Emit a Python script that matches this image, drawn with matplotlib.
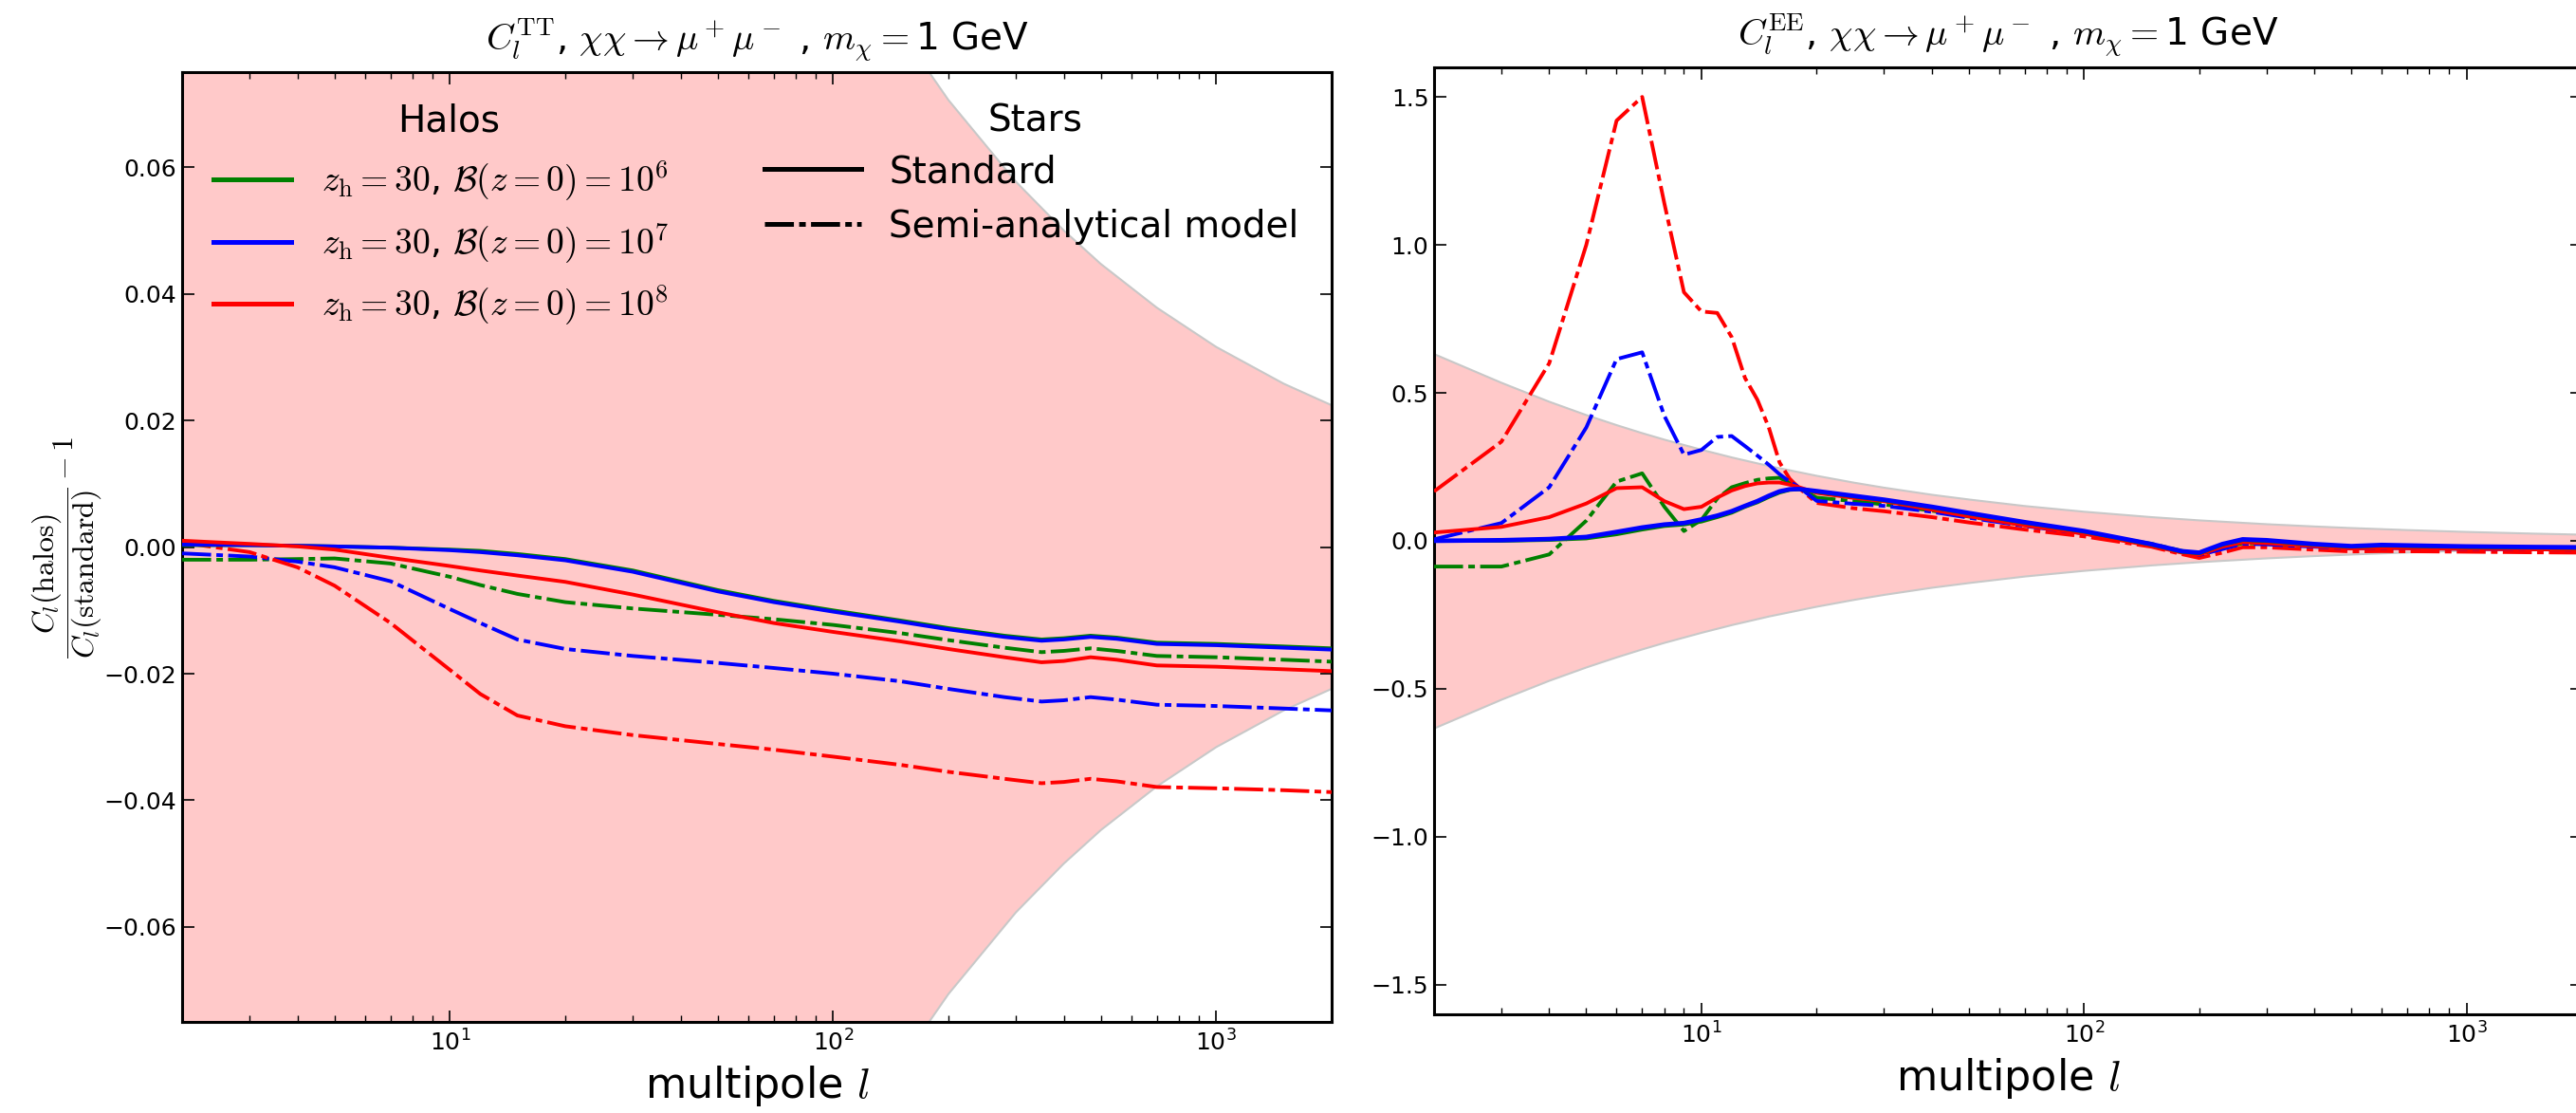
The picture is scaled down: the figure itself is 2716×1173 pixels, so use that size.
import matplotlib
matplotlib.use('Agg')
import matplotlib.pyplot as plt
from matplotlib.lines import Line2D
import numpy as np

plt.rcParams['mathtext.fontset'] = 'cm'
plt.rcParams['font.family'] = ['DejaVu Sans']
plt.rcParams['lines.scale_dashes'] = False

# ---------------- data ----------------
# cosmic-variance band
l_band = [2, 3, 4, 5, 6, 7, 8, 10, 12, 15, 20, 25, 30, 40, 50, 70, 100, 150, 200, 300, 400, 500, 700, 1000, 1500, 2000]
cv_band = [0.632, 0.535, 0.471, 0.426, 0.392, 0.365, 0.343, 0.309, 0.283, 0.254, 0.221, 0.198, 0.181, 0.157,
           0.141, 0.119, 0.0998, 0.0815, 0.0706, 0.0577, 0.0500, 0.0447, 0.0378, 0.0316, 0.0258, 0.0224]

# TT panel
l_tt = [2, 3, 4, 5, 7, 10, 12, 15, 20, 30, 50, 70, 100, 150, 200, 280, 350, 400, 470, 550, 700, 1000, 1500, 2000]
tt_b6_std = [0.0003, 0.0003, 0.0002, 0.0001, -0.0001, -0.0004, -0.0006, -0.0011, -0.0019, -0.0037, -0.0068, -0.0085,
             -0.0100, -0.0116, -0.0128, -0.0140, -0.0146, -0.0144, -0.0140, -0.0143, -0.0151, -0.0153, -0.0157, -0.0160]
tt_b7_std = [0.0004, 0.0003, 0.0002, 0.0001, -0.0001, -0.0005, -0.0008, -0.0013, -0.0021, -0.0039, -0.0070, -0.0087,
             -0.0102, -0.0118, -0.0130, -0.0142, -0.0148, -0.0146, -0.0142, -0.0145, -0.0153, -0.0155, -0.0159, -0.0162]
tt_b8_std = [0.0010, 0.0005, 0.0001, -0.0004, -0.0017, -0.0030, -0.0037, -0.0045, -0.0055, -0.0075, -0.0103, -0.0120,
             -0.0134, -0.0149, -0.0161, -0.0174, -0.0182, -0.0180, -0.0174, -0.0178, -0.0187, -0.0189, -0.0193, -0.0196]
tt_b6_sam = [-0.0020, -0.0020, -0.0019, -0.0018, -0.0026, -0.0047, -0.0060, -0.0074, -0.0087, -0.0097, -0.0107, -0.0114,
             -0.0123, -0.0136, -0.0147, -0.0159, -0.0166, -0.0164, -0.0160, -0.0164, -0.0172, -0.0174, -0.0178, -0.0181]
tt_b7_sam = [-0.0010, -0.0015, -0.0023, -0.0032, -0.0054, -0.0098, -0.0120, -0.0146, -0.0161, -0.0172, -0.0183, -0.0191,
             -0.0200, -0.0212, -0.0224, -0.0237, -0.0244, -0.0242, -0.0237, -0.0241, -0.0249, -0.0251, -0.0255, -0.0258]
tt_b8_sam = [0.0007, -0.0008, -0.0032, -0.0061, -0.0120, -0.0194, -0.0232, -0.0266, -0.0283, -0.0297, -0.0311, -0.0320,
             -0.0331, -0.0344, -0.0355, -0.0366, -0.0373, -0.0371, -0.0366, -0.0370, -0.0379, -0.0381, -0.0384, -0.0387]

# EE panel
l_ee = [2, 3, 4, 5, 6, 7, 8, 9, 10, 11, 12, 13, 14, 15, 16, 17, 18, 20, 25, 30, 40, 50, 70, 100, 150, 180, 200,
        230, 260, 300, 400, 500, 600, 800, 1000, 1500, 2000]
ee_b8_sam = [0.167, 0.335, 0.60, 1.00, 1.42, 1.50, 1.14, 0.84, 0.775, 0.77, 0.688, 0.55, 0.477, 0.383, 0.265, 0.21,
             0.178, 0.128, 0.11, 0.10, 0.08, 0.062, 0.038, 0.015, -0.02, -0.045, -0.058, -0.04, -0.022, -0.022,
             -0.03, -0.036, -0.035, -0.036, -0.037, -0.039, -0.040]
ee_b7_sam = [0.005, 0.06, 0.181, 0.383, 0.614, 0.637, 0.422, 0.291, 0.307, 0.351, 0.354, 0.32, 0.288, 0.257, 0.225,
             0.2, 0.181, 0.135, 0.125, 0.118, 0.098, 0.078, 0.05, 0.025, -0.012, -0.036, -0.048, -0.028, -0.01,
             -0.012, -0.02, -0.026, -0.024, -0.026, -0.027, -0.029, -0.030]
ee_b6_sam = [-0.087, -0.087, -0.046, 0.068, 0.20, 0.228, 0.115, 0.033, 0.071, 0.143, 0.181, 0.195, 0.206, 0.211,
             0.213, 0.196, 0.178, 0.146, 0.134, 0.123, 0.102, 0.082, 0.053, 0.027, -0.01, -0.034, -0.046, -0.026,
             -0.008, -0.01, -0.018, -0.024, -0.022, -0.024, -0.025, -0.027, -0.028]
ee_b7_std = [0.0, 0.002, 0.006, 0.013, 0.03, 0.045, 0.055, 0.06, 0.072, 0.085, 0.1, 0.118, 0.134, 0.152, 0.167,
             0.174, 0.175, 0.168, 0.152, 0.139, 0.115, 0.094, 0.063, 0.033, -0.011, -0.035, -0.04, -0.011, 0.005,
             0.002, -0.011, -0.018, -0.014, -0.017, -0.019, -0.021, -0.022]
ee_b6_std = [0.0, 0.0, 0.003, 0.008, 0.022, 0.038, 0.05, 0.055, 0.065, 0.08, 0.095, 0.115, 0.13, 0.148, 0.163,
             0.172, 0.174, 0.166, 0.150, 0.137, 0.113, 0.092, 0.061, 0.031, -0.013, -0.037, -0.042, -0.013, 0.003,
             0.0, -0.013, -0.02, -0.016, -0.019, -0.021, -0.023, -0.024]
ee_b8_std = [0.028, 0.047, 0.08, 0.126, 0.178, 0.181, 0.134, 0.107, 0.115, 0.146, 0.17, 0.185, 0.194, 0.197, 0.197,
             0.19, 0.181, 0.162, 0.145, 0.134, 0.105, 0.083, 0.052, 0.024, -0.017, -0.04, -0.047, -0.02, -0.005,
             -0.008, -0.018, -0.026, -0.024, -0.026, -0.027, -0.029, -0.030]

halo_labels = [r'$z_{\rm h}=30$, $\mathcal{B}(z=0)=10^6$',
               r'$z_{\rm h}=30$, $\mathcal{B}(z=0)=10^7$',
               r'$z_{\rm h}=30$, $\mathcal{B}(z=0)=10^8$']
star_labels = ['Standard', 'Semi-analytical model']
colors = ['#008000', '#0000ff', '#ff0000']

DASHDOT = (0, (22, 4, 5, 4))
LW = 2.8

fig = plt.figure(figsize=(27.16, 11.73), dpi=100)
ax1 = fig.add_axes([0.0707, 0.0818, 0.4462, 0.8534])
ax2 = fig.add_axes([0.5567, 0.0887, 0.4455, 0.8508])

for ax in (ax1, ax2):
    lb = np.array(l_band)
    cb = np.array(cv_band)
    ax.fill_between(lb, -cb, cb, facecolor='#ffc9c9', edgecolor='#c8c8c8', linewidth=1.5, zorder=1)

# TT
ax1.plot(l_tt, tt_b6_sam, color=colors[0], ls=DASHDOT, lw=LW, zorder=3)
ax1.plot(l_tt, tt_b7_sam, color=colors[1], ls=DASHDOT, lw=LW, zorder=3)
ax1.plot(l_tt, tt_b8_sam, color=colors[2], ls=DASHDOT, lw=LW, zorder=3)
ax1.plot(l_tt, tt_b6_std, color=colors[0], ls='-', lw=LW, zorder=4)
ax1.plot(l_tt, tt_b7_std, color=colors[1], ls='-', lw=LW, zorder=4)
ax1.plot(l_tt, tt_b8_std, color=colors[2], ls='-', lw=LW, zorder=4)

# EE
ax2.plot(l_ee, ee_b6_sam, color=colors[0], ls=DASHDOT, lw=LW, zorder=3)
ax2.plot(l_ee, ee_b8_sam, color=colors[2], ls=DASHDOT, lw=LW, zorder=3)
ax2.plot(l_ee, ee_b7_sam, color=colors[1], ls=DASHDOT, lw=LW, zorder=3)
ax2.plot(l_ee, ee_b8_std, color=colors[2], ls='-', lw=LW, zorder=4)
ax2.plot(l_ee, ee_b6_std, color=colors[0], ls='-', lw=LW, zorder=4)
ax2.plot(l_ee, ee_b7_std, color=colors[1], ls='-', lw=LW + 0.6, zorder=4)

ax1.set_ylim(-0.075, 0.075)
ax1.set_yticks([-0.06, -0.04, -0.02, 0.0, 0.02, 0.04, 0.06])
ax1.set_yticklabels(['\u22120.06', '\u22120.04', '\u22120.02', '0.00', '0.02', '0.04', '0.06'])
ax2.set_ylim(-1.6, 1.6)
ax2.set_yticks([-1.5, -1.0, -0.5, 0.0, 0.5, 1.0, 1.5])
ax2.set_yticklabels(['\u22121.5', '\u22121.0', '\u22120.5', '0.0', '0.5', '1.0', '1.5'])

for ax in (ax1, ax2):
    ax.set_xscale('log')
    ax.set_xlim(2, 2000)
    ax.tick_params(which='both', direction='in', top=True, right=True, labelsize=18)
    ax.tick_params(axis='y', which='both', pad=4)
    ax.tick_params(axis='x', which='both', pad=6)
    ax.tick_params(which='major', length=9, width=1.2)
    ax.tick_params(which='minor', length=5, width=1.0)
    for s in ax.spines.values():
        s.set_linewidth(2.2)
    ax.set_xlabel(r'multipole $l$', fontsize=32, labelpad=6)

ax1.set_title(r'$C_l^{\rm TT}$, $\chi\chi\to\mu^+\mu^-$ , $m_\chi=$1 GeV', fontsize=28, pad=16)
ax2.set_title(r'$C_l^{\rm EE}$, $\chi\chi\to\mu^+\mu^-$ , $m_\chi=$1 GeV', fontsize=28, pad=16)
ax1.set_ylabel(r'$\dfrac{C_l({\rm halos})}{C_l({\rm standard})}-1$', fontsize=23, labelpad=0)

# legends (titles drawn as separate texts)
h_halo = [Line2D([], [], color=c, lw=3.6) for c in colors]
leg1 = ax1.legend(h_halo, halo_labels, loc='upper left', bbox_to_anchor=(0.027, 0.908), frameon=False,
                  fontsize=27, handlelength=2.2, borderpad=0, borderaxespad=0, labelspacing=0.5,
                  handletextpad=0.85)
ax1.add_artist(leg1)
h_star = [Line2D([], [], color='k', lw=3.6, ls='-'), Line2D([], [], color='k', lw=3.6, ls=DASHDOT)]
leg2 = ax1.legend(h_star, star_labels, loc='upper left', bbox_to_anchor=(0.507, 0.914), frameon=False,
                  fontsize=28, handlelength=2.6, borderpad=0, borderaxespad=0, labelspacing=0.5,
                  handletextpad=0.77)
for leg in (leg1, leg2):
    leg.set_zorder(10)
ax1.text(0.232, 0.949, 'Halos', transform=ax1.transAxes, fontsize=28, ha='center', va='center', zorder=10)
ax1.text(0.742, 0.949, 'Stars', transform=ax1.transAxes, fontsize=28, ha='center', va='center', zorder=10)

fig.savefig('out.png', dpi=100)
